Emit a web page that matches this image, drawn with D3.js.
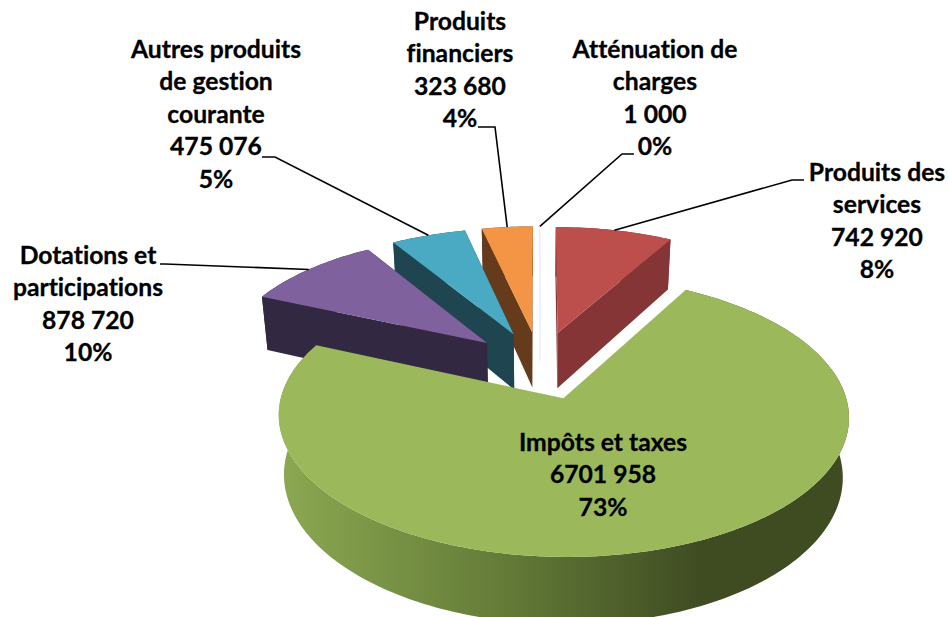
<!DOCTYPE html>
<html>
<head>
<meta charset="utf-8">
<script src="https://cdn.jsdelivr.net/npm/d3@7"></script>
<style>
html, body { margin: 0; padding: 0; background: #fff; overflow: hidden; }
text { font-family: Lato, "Open Sans", sans-serif; font-weight: 700; fill: #000; stroke: #000; stroke-width: 0.3px; font-variant-ligatures: none; }
</style>
</head>
<body>
<script>
// Data
var categories = ["Produits des services", "Impôts et taxes", "Dotations et participations",
	"Autres produits de gestion courante", "Produits financiers", "Atténuation de charges"];
var values = [742920, 6701958, 878720, 475076, 323680, 1000];
var valueLabels = ["742 920", "6701 958", "878 720", "475 076", "323 680", "1 000"];
var nameLines = [["Produits des", "services"], ["Impôts et taxes"], ["Dotations et", "participations"],
	["Autres produits", "de gestion", "courante"], ["Produits", "financiers"], ["Atténuation de", "charges"]];

// Colours of each slice
var topColors = ["#BC4E4C", "#9BB95B", "#7F619D", "#4AA9C3", "#F39545", "#FFFFFF"];
var wallColors = ["#853535", "url(#greenWall)", "#332841", "#1F4650", "#663B1C", "#FFFFFF"];

// Where the labels sit: center x, first baseline, then the elbow of the leader line
var labelPos = [
	{x: 877, y: 181, elbow: [[792, 180], [804, 180]]},
	{x: 603, y: 451, elbow: null},
	{x: 88, y: 264, elbow: [[165, 264], [160, 264]]},
	{x: 216, y: 58, elbow: [[275, 157], [262, 157]]},
	{x: 460, y: 30, elbow: [[495, 127], [478, 127]]},
	{x: 655, y: 58, elbow: [[622, 154], [634, 154]]}
];

var width = 949, height = 617;
var cx = 540, cy = 365;      // center of the un-exploded pie
var radius = 266, squash = 126;
var persp = 0.121;           // perspective strength, near slices are bigger
var explode = 0.27;          // how far slices are pulled out
var depth = 57;              // thickness of the pie
var bottomScale = 0.98;
var greenGrow = 1.03;        // the front slice looks a bit rounder than the model
var lineGap = 32.4;
var fontSize = 24.7;

var svg = d3.select("body").append("svg")
	.attr("width", width)
	.attr("height", height);

var grad = svg.append("defs").append("linearGradient")
	.attr("id", "greenWall")
	.attr("gradientUnits", "userSpaceOnUse")
	.attr("x1", 280).attr("x2", 700).attr("y1", 0).attr("y2", 0);
grad.append("stop").attr("offset", "0%").attr("stop-color", "#8CA851");
grad.append("stop").attr("offset", "50%").attr("stop-color", "#667E39");
grad.append("stop").attr("offset", "100%").attr("stop-color", "#3F4C22");

var pie = d3.pie().sort(null).value(function(d) { return d; });
var arcs = pie(values);
var total = d3.sum(values);

// Plane point (angle a clockwise from the top, r in radius units) to the screen
function project(d, a, r, low) {
	var m = (d.startAngle + d.endAngle) / 2;
	var u = explode * Math.sin(m) + r * Math.sin(a);
	var v = -explode * Math.cos(m) - r * Math.cos(a);
	var s = 1 / (1 - persp * v);
	var px = u * radius * s;
	var py = v * squash * s;
	if (low) {
		px = px * bottomScale;
		py = py + depth * s;
	}
	return [cx + px, cy + py];
}

function arcPoints(d, low, grow) {
	var n = Math.max(2, Math.ceil((d.endAngle - d.startAngle) / 0.02));
	return d3.range(n + 1).map(function(i) {
		return project(d, d.startAngle + (d.endAngle - d.startAngle) * i / n, grow, low);
	});
}

var line = d3.line();

// Back to front, the big green slice last
var order = [5, 4, 0, 3, 2, 1];

order.forEach(function(i) {
	var d = arcs[i];
	var g = svg.append("g").attr("class", "slice");
	if (i == 5) {
		// The 0% slice is only a thin pale line
		g.append("path")
			.attr("d", line([project(d, d.startAngle, 1, false), project(d, d.startAngle, 0, false),
				[cx, project(d, d.startAngle, 0, false)[1] + depth / 2]]))
			.attr("fill", "none")
			.attr("stroke", "#DCE6F2")
			.attr("stroke-width", 1);
		return;
	}
	var grow = i == 1 ? greenGrow : 1;
	var topArc = arcPoints(d, false, grow), lowArc = arcPoints(d, true, grow);
	var a0 = project(d, 0, 0, false), a1 = project(d, 0, 0, true);
	// outer wall
	g.append("path")
		.attr("d", line(topArc.concat(lowArc.slice().reverse())) + "Z")
		.attr("fill", wallColors[i]);
	// the two radial walls
	if (i != 1) {
		[[topArc[0], lowArc[0]], [topArc[topArc.length - 1], lowArc[lowArc.length - 1]]].forEach(function(e) {
			g.append("path")
				.attr("d", line([a0, e[0], e[1], a1]) + "Z")
				.attr("fill", wallColors[i]);
		});
	}
	// top face
	g.append("path")
		.attr("d", line([a0].concat(topArc)) + "Z")
		.attr("fill", topColors[i]);
});

// Leader lines
arcs.forEach(function(d, i) {
	if (!labelPos[i].elbow) return;
	var m = (d.startAngle + d.endAngle) / 2;
	svg.append("path")
		.attr("d", line([project(d, m, 1, false)].concat(labelPos[i].elbow)))
		.attr("fill", "none")
		.attr("stroke", "#000")
		.attr("stroke-width", 1.6);
});

// Labels
arcs.forEach(function(d, i) {
	var rows = nameLines[i].concat([valueLabels[i], Math.round(100 * values[i] / total) + "%"]);
	var t = svg.append("text")
		.attr("text-anchor", "middle")
		.style("font-size", fontSize + "px");
	t.selectAll("tspan")
		.data(rows)
		.enter().append("tspan")
		.attr("x", labelPos[i].x)
		.attr("y", function(r, k) { return labelPos[i].y + k * lineGap; })
		.text(function(r) { return r; });
});
</script>
</body>
</html>
